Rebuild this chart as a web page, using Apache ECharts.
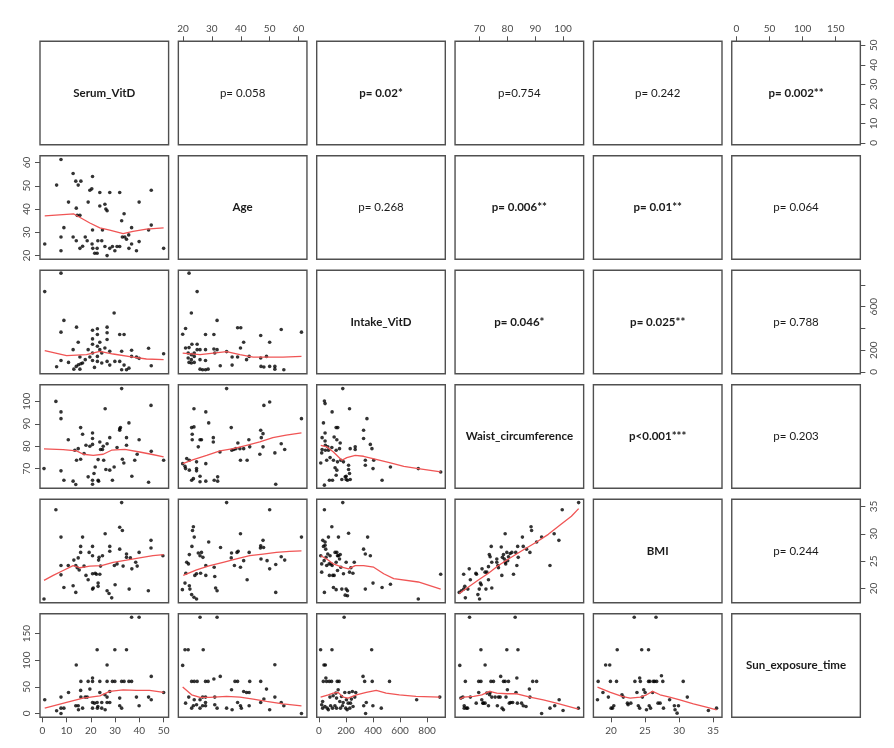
<!DOCTYPE html>
<html>
<head>
<meta charset="utf-8">
<script src="https://cdn.jsdelivr.net/npm/echarts@6/dist/echarts.min.js"></script>
<style>html,body{margin:0;padding:0;background:#fff}#chart{width:894px;height:748px}</style>
</head>
<body>
<div id="chart"></div>
<script>
// variables of the pairs plot, in order
const varNames = ['Serum_VitD', 'Age', 'Intake_VitD', 'Waist_circumference', 'BMI', 'Sun_exposure_time'];
const axisMin = [-0.95, 18.4, -17, 61.2, 17.4, -7.2];
const axisMax = [52.05, 62.9, 935, 107.4, 36.3, 187.2];
const tickValues = [[0, 10, 20, 30, 40, 50], [20, 30, 40, 50, 60], [0, 200, 400, 600, 800], [70, 80, 90, 100], [20, 25, 30, 35], [0, 50, 100, 150]];
const rightLabelValues = [[0, 10, 20, 30, 40, 50], null, [0, 200, 600], null, [20, 25, 30, 35], null];

// upper panels: [row, col], text, bold
const pCells = [[0, 1], [0, 2], [0, 3], [0, 4], [0, 5], [1, 2], [1, 3], [1, 4], [1, 5], [2, 3], [2, 4], [2, 5], [3, 4], [3, 5], [4, 5]];
const pTexts = ['p= 0.058', 'p= 0.02*', 'p=0.754', 'p= 0.242', 'p= 0.002**', 'p= 0.268', 'p= 0.006**', 'p= 0.01**', 'p= 0.064', 'p= 0.046*', 'p= 0.025**', 'p= 0.788', 'p<0.001***', 'p= 0.203', 'p= 0.244'];
const pBold = [false, true, false, false, true, false, true, true, false, true, true, false, true, false, false];

// lower panels: scatter points [x, y] and smoothed line
const serumAge = [[1,25],[5.9,50.3],[7.7,61.3],[7.7,28],[7.7,22.1],[8.9,32],[10.8,43],[12.7,55.3],[13.8,52],[14.8,50.3],[15.9,52],[12.7,28],[14,40.4],[14.4,37.3],[15.5,37.3],[14,26.4],[15.5,23.1],[16.6,24],[17.7,28],[18.9,43],[18.5,26.4],[19.6,48.1],[20.7,54],[20.4,48.7],[20.7,31],[20.5,25],[20.8,23.1],[21.6,21],[22.6,21],[22.6,23.1],[22.9,26.4],[23.7,41.3],[23.7,47.1],[24.5,26.4],[24.8,31],[25.8,42.1],[26.2,40],[26.7,39.3],[25.8,23.9],[26.7,20],[27.8,47.1],[27.8,23.1],[28.9,23.9],[29.9,22.1],[30.8,23.9],[31.9,47.1],[31.9,23.9],[32.7,35],[33.7,38],[33,28],[34,28],[34.7,27],[35.6,28.9],[36.8,32],[35.7,23.1],[36.8,25],[38.8,22.1],[39.9,43],[39.9,26],[43.8,31],[44.9,33.1],[44.9,48.1],[50,23.1]];
const serumAgeFit = [[1,37.1],[13,37.9],[19.6,34],[23.7,31.9],[27.8,30.9],[33.3,29.4],[37.4,30.4],[42.9,31.4],[50,31.9]];

const serumIntake = [[1,739],[7.7,909],[8.9,474],[7.7,366],[14.1,412],[14.8,273],[12.7,205],[5.9,48],[7.7,106],[10.8,88],[13,26],[14,51],[14.9,66],[15.9,76],[15.5,26],[16.6,82],[15.5,137],[17.7,113],[18.9,205],[19.6,137],[20.7,384],[20.7,304],[20.7,255],[20.7,174],[20.7,106],[21.5,42],[22.7,397],[22.7,344],[22.7,236],[22.7,143],[22.7,97],[23.7,273],[23.7,205],[24.5,174],[24.5,82],[25.8,221],[26.7,412],[26.7,360],[26.7,298],[26.7,97],[27.8,190],[27.8,63],[29.6,542],[29.9,97],[31.9,344],[31.9,97],[32.7,190],[33.7,344],[32.7,20],[33.7,63],[34.7,20],[35.7,35],[36.8,199],[36.8,143],[38.8,137],[39.9,125],[43.8,218],[44.9,57],[50,168]];
const serumIntakeFit = [[1,196],[10,150],[18.2,159],[23.7,190],[29.2,165],[37.4,137],[42.9,119],[50,113]];

const ageIntake = [[22.1,909],[24.9,739],[22.9,542],[20.9,400],[19.9,347],[20.9,221],[22.1,224],[23.1,255],[24.9,255],[21.8,174],[21.8,128],[22.9,159],[22.9,113],[22.9,82],[22.1,88],[23.9,88],[23.9,143],[23.9,174],[24.9,205],[25.9,205],[25.9,113],[25.9,26],[26.8,20],[27.8,20],[28.7,26],[27.8,106],[27.8,344],[27.8,205],[30.7,344],[31.8,474],[30.7,211],[31,174],[31.8,205],[32.9,57],[35.1,187],[37,137],[37,63],[38.9,406],[40,406],[38.9,137],[39.9,221],[41,273],[42,113],[42.9,143],[46.9,335],[46.9,128],[47,51],[48,45],[50,273],[48.9,143],[50,51],[51.8,51],[51.8,26],[54,390],[54.9,20],[61,366]];
const ageIntakeFit = [[19.9,174],[25.9,159],[30.5,174],[35.1,187],[39.7,159],[44.3,137],[48.9,137],[54.6,137],[61,143]];

const serumWaist = [[0.7,70],[5.6,100],[7.7,95.3],[7.7,92.3],[7.7,69],[8.9,64.8],[10.7,82.9],[12.7,64.4],[13.8,62.9],[13.4,78.2],[14.1,73.7],[14.8,78.9],[15.8,88.3],[15.8,74.2],[16.6,85.3],[17.2,76.7],[18,80.4],[18.9,66.3],[19.6,80],[20.7,85.9],[20.7,83.4],[20.7,80.8],[20.7,64.8],[20.7,63],[21.3,67.8],[21.8,70.7],[23,64.8],[23.2,64.4],[23,74],[23.7,81.9],[24,78.5],[24.8,78.5],[25.1,80],[25.9,96.7],[25.3,73.7],[26.2,69.6],[26.7,81.1],[27.8,83.8],[27.8,69.3],[28.9,64.8],[29.6,70.7],[30.8,79.4],[31.9,87.1],[31.9,87.8],[32.2,88.3],[32.7,105.7],[33,74.2],[33.6,72.5],[34.7,83.8],[35.7,90.4],[34.7,80.4],[36.9,66.6],[38.1,73.7],[39.1,76.4],[39.9,82.9],[43.8,63.9],[44.8,98.2],[44.9,77.7],[50,73.7]];
const serumWaistFit = [[0.7,78.8],[8.6,78.5],[14.1,77.9],[16.9,76.4],[21,75.9],[25.1,76.4],[28.5,78.2],[34,78.6],[40.1,77.4],[44.9,76.4],[50,75.2]];

const ageWaist = [[19.9,72.2],[20.7,71],[20.9,70],[21.3,74.5],[22.2,73.7],[22.2,69.3],[23,64.8],[23,88.3],[23.2,85.3],[23.8,96.7],[23.8,88.6],[23.2,82.9],[23.6,65.5],[24.7,70],[24.7,69],[24.7,73],[25.3,79.7],[25.9,82.9],[25.9,66.6],[25.9,64.1],[26.4,82.9],[27.9,95.3],[27.9,72.2],[27.9,64.4],[28.9,90.4],[30.5,83.8],[30.5,81.9],[30.8,64.8],[32,66.3],[32,64.4],[32.8,77.4],[35.1,105.7],[36.7,88.3],[36.9,78.2],[37.6,78.5],[38.3,78.9],[39,81.4],[39.9,73.7],[39.7,78.9],[41,78.9],[42.2,73.7],[42.8,82.9],[43.1,79.7],[46.6,76.4],[46.9,87.1],[47.7,85.6],[47.1,83.8],[48,98.2],[47.7,79.7],[50,99.7],[51.8,77],[52.1,63],[54,81.1],[55.2,78.5],[61,92.3]];
const ageWaistFit = [[19.9,72.2],[23.6,74],[28.2,75.9],[32.8,77.9],[37.4,78.9],[42,80.4],[46.6,81.9],[51.1,83.8],[55.7,84.9],[61,85.9]];

const intakeWaist = [[13,72.5],[23,83.8],[23,78.5],[20,77],[33,90.4],[40,100.2],[45,99],[45,85.9],[45,82.3],[47,80.4],[47,78.2],[40,62.6],[57,73.7],[65,79.7],[70,78.2],[77,64.8],[82,74.9],[95,79.4],[97,95.3],[100,64.8],[107,73.7],[112,84.1],[119,70.4],[127,88.3],[127,78.2],[127,67],[132,82.9],[132,69.3],[139,88.3],[137,73],[152,78.9],[157,81.4],[162,73.7],[169,65.1],[176,105.7],[181,73],[194,66.3],[201,66.6],[201,65.1],[211,64.8],[219,71.5],[219,69.6],[226,96.7],[226,67.8],[231,65.1],[231,78.9],[268,79.7],[268,78.5],[330,87.1],[330,83.4],[343,73.7],[343,71.5],[355,92.3],[380,80.8],[392,78.9],[400,70],[405,73.7],[467,64.8],[529,70.7],[735,70],[901,68.5]];
const intakeWaistFit = [[13,80.4],[57,79.7],[107,77.4],[169,73.7],[206,74.9],[268,75.9],[330,75.5],[430,74],[529,72.5],[628,71],[735,70],[901,68.5]];

const serumBmi = [[0.7,18.1],[5.6,34.4],[7.7,29.4],[7.7,24.2],[7.7,22.5],[8.9,20.2],[10.7,24.2],[12.7,20.5],[13.8,19.3],[13,25.2],[13.8,24.2],[14.8,25.6],[14.4,23.8],[15.2,23.4],[15.8,27.7],[15.8,26.6],[16.6,29.4],[17.2,24.1],[18,22.4],[18.9,21.6],[19.3,26.6],[20.7,27.7],[20.7,26],[20.7,22.7],[20.7,19.9],[21,20.1],[21.8,22.8],[22.3,22.6],[23,21],[23,20.4],[23.2,25.2],[23.4,25.7],[23.7,22.6],[24,24.1],[24.8,26],[25.9,30],[26.7,19.6],[27.5,19.1],[27.8,26.8],[27.8,27.7],[28.6,18.3],[30,20.7],[29.7,24.2],[30.8,24.5],[31.9,27.2],[31.9,31.2],[33,30.6],[32.7,35.7],[33.3,24.1],[34.7,26.3],[34.7,25.7],[35.8,19.9],[36.3,25.6],[36.9,23.6],[38.5,24.8],[39.1,24.1],[39.9,26.6],[43.7,19.6],[44.8,28.8],[44.8,27.4],[49.7,26]];
const serumBmiFit = [[0.7,21.5],[4.5,22.4],[8.6,23.3],[12.7,24.2],[15.5,23.8],[19.6,24.1],[24.4,24.2],[29.2,24.8],[34.7,25.2],[40.1,25.6],[45.6,26],[50,26.2]];

const ageBmi = [[19.8,19.8],[20.7,21],[21,22.8],[21.3,24.8],[21.9,24.5],[22.2,26.2],[22.2,20.5],[22.4,19.9],[23,18.9],[23.1,27.7],[23.3,30.6],[23.6,31.3],[23.9,29.4],[23.8,18.4],[24.7,18.1],[24.1,22.4],[24.7,22.7],[25.3,26.5],[25.9,26],[26.4,26.6],[26.1,22.8],[26.9,25.7],[27.9,24.2],[27.9,22.4],[28.9,28.5],[30.8,23.9],[31,22.2],[31.3,20.1],[31.8,19.6],[33,27.5],[35.1,35.7],[36.7,25.6],[36.8,26.5],[38.7,26.6],[39.1,26.8],[37.8,24.2],[39.9,30],[39.9,23.9],[41,25.1],[42.2,21.6],[42.9,26.6],[46.9,27.8],[47.7,28.8],[46.8,27.4],[47.9,27.5],[47,25.4],[49.1,25.1],[50,34.4],[50,23.6],[52.1,24.4],[52.1,19.3],[54,25.8],[55.2,25.2],[61,29.4]];
const ageBmiFit = [[20.1,22.4],[24.7,23.4],[29.3,24.2],[33.9,24.8],[38.5,25.4],[43.1,26],[47.7,26.3],[52.3,26.6],[56.9,26.8],[61,26.9]];

const intakeBmi = [[13,26],[20,24.5],[20,23],[28,28.8],[33,27.7],[38,25.1],[40,34.4],[40,19.3],[45,28.5],[45,27.9],[50,27.2],[52,25.7],[57,24.2],[65,26.3],[70,29.4],[75,24.5],[77,22.4],[82,26],[90,24.5],[95,31.3],[97,24.2],[102,22.4],[107,20.2],[112,22.4],[119,26.6],[127,24.8],[127,19.8],[132,26.6],[137,26],[144,29.4],[137,23.3],[144,26],[152,25.4],[157,26.2],[162,23.9],[169,19.9],[176,35.7],[181,22.7],[194,18.8],[201,19.9],[201,24.8],[211,19.6],[211,18.7],[219,30.1],[226,23],[236,23.8],[251,22.8],[261,24.8],[330,27.2],[343,26.3],[343,19.9],[360,29.4],[380,26],[400,21],[467,20.2],[529,20.8],[735,18.1],[901,22.6]];
const intakeBmiFit = [[13,26],[57,25.4],[107,24.5],[169,23.9],[219,23.6],[268,24.2],[330,24.2],[405,23.9],[479,22.7],[553,21.8],[735,21.2],[901,19.9]];

const waistBmi = [[62.7,19.3],[63.5,19.6],[64.3,19.9],[64.9,18.3],[64.7,20.4],[65.8,19.9],[64.3,22.6],[66.3,23.6],[66.7,21.6],[68.7,22.8],[68.9,22.6],[69.4,18.9],[70,18.1],[69.9,19.9],[70.3,21],[70.6,20.7],[70.9,23.6],[72,23],[72.3,19.9],[72.6,23],[73.2,24],[73.2,21.6],[73.8,25.8],[74.2,27.7],[74.4,24.8],[74.4,20.1],[73.5,26.2],[76.2,24.8],[76.2,25.4],[76.6,24.2],[76.8,23.8],[77.8,27.6],[78,22.4],[78.2,25.7],[78.6,26.2],[78.9,25.4],[79.2,24.8],[79.2,30],[79.4,24.5],[79.8,26.6],[80.1,25.1],[80.4,25.8],[81,26.4],[81.6,26.6],[82.2,22.6],[83,26.6],[83.4,24.2],[83.7,27.7],[83.9,25.7],[85.4,29.4],[85.7,27.7],[86.9,27.2],[88.1,26.6],[88.5,31.3],[88.7,30.6],[90.5,28.5],[92.3,29.4],[95.3,24.2],[96.8,30],[98.5,28.8],[99.7,34.4],[105.6,35.7]];
const waistBmiFit = [[62.7,19.1],[66,20.3],[69.7,21.6],[73.2,22.8],[76.8,24.2],[80.4,25.4],[85.2,26.9],[90.5,28.5],[94.7,29.9],[99.4,31.8],[103,33.2],[105.6,34.6]];

const serumSun = [[1,25.7],[5.9,5],[7.7,10],[7.7,0],[7.7,30.7],[8.9,10],[10.8,39.5],[13.8,14.4],[14,91],[14.8,14.4],[14.9,6.9],[15.9,30.7],[15.9,60.2],[15.8,43.3],[16.6,10],[17.7,30.7],[18.5,30.7],[18.9,60.2],[19.6,45.8],[20.7,60.2],[20.7,66.5],[20.7,10],[20.7,20.7],[21.5,19.4],[22.6,119.8],[22.6,20.7],[22.7,10],[22.9,13.2],[23.7,60.2],[23.7,39.5],[24.5,20.7],[24.5,10],[25.8,35.1],[25.9,6.9],[26.7,91],[26.7,60.2],[26.7,20.7],[26.7,30.7],[27.8,41.4],[27.8,20.7],[28.9,60.2],[29.9,119.8],[29.9,60.2],[31.9,28.9],[31.9,14.4],[32.7,10],[32.7,60.2],[33.7,60.2],[34.7,119.8],[35.7,60.2],[36.8,60.2],[36.8,180.7],[38.8,30.7],[39.9,180.7],[39.9,14.4],[43.8,30.7],[44.9,69.6],[44.9,25.7],[50,39.5]];
const serumSunFit = [[1,10],[10,20.7],[16.8,28.9],[23.7,33.2],[27.8,41.4],[33.3,44.5],[38.8,43.3],[44.2,43.3],[50,39.5]];

const ageSun = [[19.9,90.3],[20.7,119.8],[21.8,119.8],[20.9,19.4],[22,30.7],[23,60.2],[23,10],[23.9,60.2],[23.6,14.4],[23.9,25.7],[24.9,60.2],[24.7,16.3],[25.9,180.7],[25.9,25.7],[25.9,10],[26.8,30.7],[26.8,14.4],[27,119.8],[27.8,60.2],[27.8,30.7],[27.8,20.7],[27.8,14.4],[28.7,60.2],[30.7,64.6],[31,30.7],[31,16.3],[31.8,180.7],[31.8,10],[32.9,69.6],[35.1,10],[36.8,44.5],[37,6.9],[38,60.2],[38.9,60.2],[38.9,20.7],[39.9,14.4],[40.2,10],[41,41.4],[42,39.5],[42.9,39.5],[43.1,60.2],[42.9,14.4],[46.9,60.2],[46.9,20.7],[48,27],[48.9,45.8],[50,6.9],[51.8,91.6],[51.8,30.7],[54,20.7],[54.9,14.4],[61,0]];
const ageSunFit = [[19.9,49.6],[23,35.1],[25.9,30.1],[29.3,30.1],[35.1,32],[39.7,30.7],[44.3,27],[48.9,22.6],[54.6,18.2],[61,14.4]];

const intakeSun = [[12,119.8],[20,16.3],[27,22.6],[27,10],[32,60.2],[37,91],[44,13.2],[47,91],[51,66.5],[56,60.2],[61,10],[69,6.9],[76,60.2],[81,30.7],[86,14.4],[93,60.2],[96,119.8],[100,10],[105,33.2],[118,14.4],[125,38.3],[130,28.9],[135,60.2],[142,44.5],[149,60.2],[130,10],[154,22.6],[159,10],[167,32],[174,14.4],[179,20.7],[186,180.7],[191,39.5],[198,10],[203,25.7],[208,6.9],[216,19.4],[223,39.5],[228,10],[233,19.4],[240,27],[247,41.4],[252,13.2],[265,30.7],[272,39.5],[326,69.6],[331,14.4],[338,60.2],[345,0],[350,20.7],[390,119.8],[394,60.2],[399,14.4],[461,10],[522,60.2],[723,25.7],[894,30.7]];
const intakeSunFit = [[12,30.7],[69,35.1],[105,38.3],[142,39.5],[179,30.7],[216,28.9],[277,35.1],[350,39.5],[424,43.3],[497,38.3],[595,35.1],[718,32],[894,30.7]];

const waistSun = [[62.9,90.3],[63.3,28.9],[64,30.7],[64.5,14.4],[64.5,10],[64.9,60.2],[65.3,10],[65.7,10],[66.7,30.7],[66.4,180.7],[68.8,19.4],[69.7,60.2],[69.7,39.5],[70.5,60.2],[70.5,119.8],[70.8,25.7],[71.2,19.4],[71.4,19.4],[72,91],[72,19.4],[72.6,38.3],[73.2,14.4],[73.6,35.1],[73.8,39.5],[74.1,60.2],[74.4,30.7],[75,60.2],[75.6,30.7],[76.4,14.4],[76.8,30.7],[77.6,69.6],[77.4,30.7],[78.1,10],[78.6,60.2],[78.6,6.9],[79.2,60.2],[79.5,30.7],[79.8,119.8],[80,44.5],[80.4,60.2],[80.7,19.4],[81.2,20.7],[81.9,20.7],[82.8,180.7],[83.1,39.5],[83.4,66.5],[83.6,19.4],[83.8,119.8],[85.1,19.4],[85.7,14.4],[86.7,13.2],[87.9,45.8],[88.1,30.7],[89.1,60.2],[90.5,60.2],[92.3,0],[95.3,10],[97,14.4],[98.6,25.7],[100,5.6],[105.5,10]];
const waistSunFit = [[62.9,27],[64.3,30.7],[67.9,32],[70.8,35.1],[73.6,41.4],[76.2,38.3],[79.8,37],[83.4,37],[88.1,30.7],[92.9,25.7],[97.6,19.4],[105.5,8.2]];

const bmiSun = [[18,25.7],[18.1,60.2],[18.8,39.5],[19.2,91],[19.8,91],[19.9,60.2],[19.6,30.7],[20,10],[20.2,10],[20.4,14.4],[20.8,60.2],[20.9,119.8],[21.6,35.1],[21.8,30.7],[22.4,19.4],[22.5,16.3],[22.9,19.4],[23.4,180.7],[23.5,60.2],[23.8,39.5],[24,14.4],[24.2,66.5],[24.2,10],[24.3,60.2],[24.5,119.8],[24.6,30.7],[24.8,44.5],[25,39.5],[25.2,6.9],[25.5,119.8],[25.5,60.2],[25.6,14.4],[25.7,60.2],[25.8,10],[26.1,39.5],[26.2,60.2],[26.4,60.2],[26.6,180.7],[26.7,60.2],[26.9,19.4],[27.2,19.4],[27.4,70.9],[27.6,60.2],[27.7,10],[28.6,25.7],[29.3,14.4],[29.4,6.9],[29.9,14.4],[29.7,0.6],[30.6,60.2],[31.2,30.7],[34.3,5.6],[35.5,10]];
const bmiSunFit = [[18,49.6],[19.9,39.5],[21.6,32],[22.8,28.9],[24.3,30.7],[25.2,35.1],[26.1,41.4],[27.2,35.1],[28.6,30.7],[30.1,25.7],[32.1,18.2],[34,11.9],[35.5,6.9]];

const lowerPanels = [
  [1, 0, serumAge, serumAgeFit],
  [2, 0, serumIntake, serumIntakeFit], [2, 1, ageIntake, ageIntakeFit],
  [3, 0, serumWaist, serumWaistFit], [3, 1, ageWaist, ageWaistFit], [3, 2, intakeWaist, intakeWaistFit],
  [4, 0, serumBmi, serumBmiFit], [4, 1, ageBmi, ageBmiFit], [4, 2, intakeBmi, intakeBmiFit], [4, 3, waistBmi, waistBmiFit],
  [5, 0, serumSun, serumSunFit], [5, 1, ageSun, ageSunFit], [5, 2, intakeSun, intakeSunFit], [5, 3, waistSun, waistSunFit], [5, 4, bmiSun, bmiSunFit]
];

const n = varNames.length;
const left0 = 40, top0 = 41.3, cellW = 128.6, cellH = 103.5, stepX = 138.35, stepY = 114.5;
const labelFont = { color: '#4a4a4a', fontSize: 10, fontFamily: 'Lato', margin: 8 };

const grids = [], xAxes = [], yAxes = [], series = [], texts = [];

for (let r = 0; r < n; r++) {
  for (let c = 0; c < n; c++) {
    const k = r * n + c;
    const left = left0 + c * stepX, top = top0 + r * stepY;
    grids.push({ left: left, top: top, width: cellW, height: cellH, show: true,
      borderColor: '#505050', borderWidth: 1.4, containLabel: false });

    const xTop = r === 0 && c % 2 === 1;
    const xBottom = r === n - 1 && c % 2 === 0;
    const xShow = xTop || xBottom;
    xAxes.push({
      type: 'value', gridIndex: k, min: axisMin[c], max: axisMax[c],
      position: xTop ? 'top' : 'bottom',
      axisLine: { show: false, onZero: false }, splitLine: { show: false },
      axisTick: { show: xShow, length: 5, customValues: tickValues[c], lineStyle: { color: '#505050', width: 1 } },
      axisLabel: Object.assign({ show: xShow, customValues: tickValues[c] }, labelFont)
    });

    const yLeft = c === 0 && r % 2 === 1;
    const yRight = c === n - 1 && r % 2 === 0;
    const yShow = yLeft || yRight;
    const yLabels = yRight && rightLabelValues[r] ? rightLabelValues[r] : tickValues[r];
    yAxes.push({
      type: 'value', gridIndex: k, min: axisMin[r], max: axisMax[r],
      position: yRight ? 'right' : 'left',
      axisLine: { show: false, onZero: false }, splitLine: { show: false },
      axisTick: { show: yShow, length: 5, customValues: tickValues[r], lineStyle: { color: '#505050', width: 1 } },
      axisLabel: Object.assign({ show: yShow, rotate: 90, customValues: yLabels }, labelFont)
    });

    if (r === c) {
      texts.push({ type: 'text', x: left + cellW / 2, y: top + cellH / 2,
        style: { text: varNames[r], align: 'center', verticalAlign: 'middle',
          font: 'bold 11.5px Lato', fill: '#1a1a1a' } });
    }
  }
}

pCells.forEach(function (cell, i) {
  const left = left0 + cell[1] * stepX, top = top0 + cell[0] * stepY;
  texts.push({ type: 'text', x: left + cellW / 2, y: top + cellH / 2,
    style: { text: pTexts[i], align: 'center', verticalAlign: 'middle',
      font: (pBold[i] ? 'bold ' : '') + '11.5px Lato', fill: '#1a1a1a' } });
});

lowerPanels.forEach(function (p) {
  const k = p[0] * n + p[1];
  series.push({ type: 'scatter', xAxisIndex: k, yAxisIndex: k, data: p[2],
    symbolSize: 3.6, itemStyle: { color: '#000' }, silent: true });
  series.push({ type: 'line', xAxisIndex: k, yAxisIndex: k, data: p[3],
    showSymbol: false, symbol: 'none', smooth: false,
    lineStyle: { color: '#f05555', width: 1.3 }, silent: true });
});

const chart = echarts.init(document.getElementById('chart'));
chart.setOption({
  animation: false,
  backgroundColor: '#fff',
  grid: grids,
  xAxis: xAxes,
  yAxis: yAxes,
  series: series,
  graphic: texts
});
</script>
</body>
</html>
